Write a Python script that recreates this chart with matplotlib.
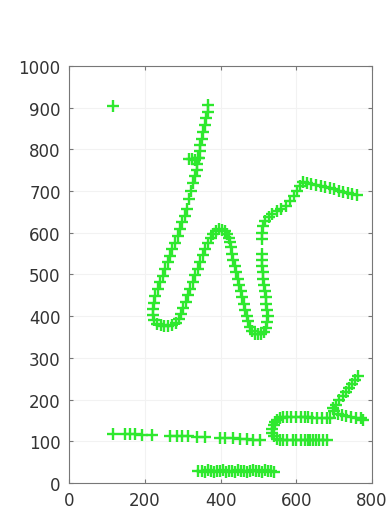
import numpy as np
import matplotlib
matplotlib.use("Agg")
import matplotlib.pyplot as plt

# main stroke (top of the tall stroke first)
main_x = [368, 366, 362, 358, 354, 350, 347, 345, 342, 339, 337, 333, 328, 322, 316, 311,
          305, 299, 293, 287, 280, 273, 266, 260, 253, 247, 240, 234, 228, 224, 222, 221,
          225, 232, 242, 252, 262, 272, 282, 290, 296,
          302, 308, 314, 320, 326, 333, 340, 347, 354, 360, 367, 374, 380, 387, 395, 403,
          411, 418, 423, 426,
          428, 430, 433, 437, 441, 445, 449, 453, 457, 461, 465, 469, 473, 478, 484, 491,
          499, 507, 514, 520, 523, 524, 523, 521, 519, 517, 515, 513, 511, 510, 509, 509,
          510, 510, 512, 518, 527, 537, 548, 560, 572, 583, 593, 602, 610, 618, 628, 640,
          652, 664, 676, 688, 700, 712, 724, 736, 748, 760]
main_y = [905, 890, 875, 858, 841, 825, 810, 795, 780, 765, 750, 735, 720, 700, 680, 657,
          640, 625, 609, 592, 575, 560, 545, 530, 513, 497, 482, 465, 448, 432, 417, 402,
          390, 382, 378, 376, 376, 378, 384, 393, 405,
          420, 435, 450, 466, 482, 498, 514, 530, 546, 561, 575, 588, 598, 605, 608, 607,
          603, 597, 588, 578,
          565, 550, 535, 520, 505, 490, 475, 460, 445, 430, 415, 400, 388, 375, 365, 358,
          356, 357, 362, 372, 385, 400, 415, 430, 445, 460, 475, 490, 505, 520, 535, 550,
          585, 600, 615, 628, 638, 645, 652, 657, 665, 675, 688, 700, 712, 722, 720, 716,
          714, 712, 710, 707, 704, 701, 698, 696, 693, 690]

# blob on the tall stroke and the lone point
blob_x = [117, 318, 325, 332, 340]
blob_y = [904, 777, 777, 775, 778]

# long sparse line near 110
line_x = [115, 148, 161, 174, 192, 218, 266, 284, 297, 315, 337, 359, 398, 412, 434,
          451, 469, 487, 504]
line_y = [118, 118, 117, 117, 116, 116, 113, 113, 112, 112, 111, 110, 108, 108, 107,
          106, 105, 104, 103]

# bottom cluster
low_x = [340, 350, 358, 366, 374, 382, 390, 398, 406, 414, 422, 430, 438, 446, 454,
         462, 470, 478, 486, 494, 502, 510, 518, 526, 534, 542]
low_y = [28, 29, 27, 30, 28, 27, 29, 28, 30, 27, 28, 29, 27, 30, 28, 29, 27, 28, 30,
         29, 28, 27, 30, 29, 28, 27]

# right bottom group (c shape and hook)
c_x = [545, 550, 558, 566, 575, 585, 600, 612, 622, 632, 642, 655, 668, 680, 690,
       540, 537, 537, 540, 548,
       556, 565, 575, 590, 600, 612, 622, 630, 637, 644, 652, 660, 670, 680]
c_y = [145, 152, 155, 157, 158, 158, 158, 157, 157, 157, 156, 156, 156, 156, 156,
       140, 130, 120, 112, 106,
       104, 103, 104, 104, 103, 104, 103, 103, 104, 104, 103, 104, 103, 103]
hook_x = [763, 755, 747, 739, 731, 722, 714, 705, 698, 700, 710, 720, 732, 745, 757, 770, 775]
hook_y = [257, 248, 238, 228, 218, 208, 198, 188, 180, 172, 166, 162, 160, 158, 156, 155, 152]

fig = plt.figure(figsize=(3.9, 5.1), dpi=100)
ax = fig.add_axes([0.177, 0.051, 0.777, 0.818])

col = '#2ee82e'
for xs, ys in [(main_x, main_y), (blob_x, blob_y), (line_x, line_y),
               (low_x, low_y), (c_x, c_y), (hook_x, hook_y)]:
    ax.plot(xs, ys, linestyle='none', marker='+', color=col,
            markersize=8.5, markeredgewidth=1.7)

ax.set_xlim(0, 800)
ax.set_ylim(0, 1000)
ax.set_xticks(np.arange(0, 801, 200))
ax.set_yticks(np.arange(0, 1001, 100))
ax.tick_params(direction='in', length=3, top=True, right=True, color='#777777',
               labelsize=12, labelcolor='#333333', pad=6)
for s in ax.spines.values():
    s.set_color('#777777')
ax.grid(True, color='#f2f2f2', linewidth=0.8)
ax.set_axisbelow(True)

fig.savefig('out.png', dpi=100)
